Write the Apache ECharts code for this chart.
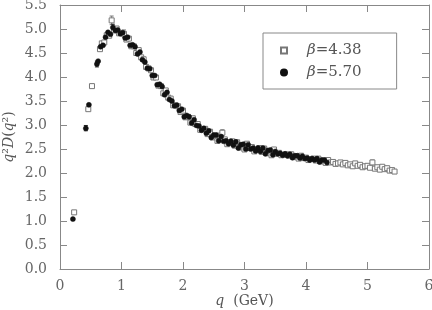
<!DOCTYPE html>
<html><head><meta charset="utf-8">
<script src="https://cdn.jsdelivr.net/npm/echarts@6/dist/echarts.min.js"></script>
<style>html,body{margin:0;padding:0;background:#fff}#c{width:432px;height:310px}</style>
</head><body><div id="c"></div>
<script>
// beta = 4.38 (open squares)
var qA = [0.23,0.46,0.52,0.65,0.68,0.72,0.76,0.80,0.84,0.88,0.92,0.96,1.00,1.04,1.08,1.12,1.16,1.20,1.24,1.28,1.32,1.36,1.40,1.44,1.48,1.52,1.56,1.60,1.64,1.68,1.72,1.76,1.80,1.84,1.88,1.92,1.96,2.00,2.04,2.08,2.12,2.16,2.20,2.24,2.28,2.32,2.36,2.40,2.44,2.48,2.52,2.56,2.60,2.64,2.68,2.72,2.76,2.80,2.84,2.88,2.92,2.96,3.00,3.04,3.08,3.12,3.16,3.20,3.24,3.28,3.32,3.36,3.40,3.44,3.48,3.52,3.56,3.60,3.64,3.68,3.72,3.76,3.80,3.84,3.88,3.92,3.96,4.00,4.04,4.08,4.12,4.16,4.20,4.24,4.28,4.32,4.36,4.40,4.44,4.48,4.52,4.56,4.60,4.64,4.68,4.72,4.76,4.80,4.84,4.88,4.92,4.96,5.00,5.04,5.08,5.12,5.16,5.20,5.24,5.28,5.32,5.36,5.40,5.44];
var vA = [1.18,3.33,3.81,4.58,4.70,4.72,4.87,4.86,5.18,4.97,5.01,4.91,4.92,4.90,4.78,4.80,4.64,4.64,4.50,4.56,4.41,4.37,4.21,4.18,4.14,3.99,3.99,3.82,3.81,3.66,3.72,3.57,3.55,3.41,3.41,3.39,3.27,3.30,3.16,3.17,3.05,3.14,3.02,3.02,2.90,2.91,2.92,2.81,2.86,2.74,2.78,2.67,2.78,2.84,2.70,2.60,2.64,2.66,2.57,2.64,2.53,2.58,2.49,2.61,2.52,2.54,2.45,2.49,2.52,2.44,2.51,2.41,2.46,2.37,2.49,2.40,2.42,2.37,2.38,2.39,2.36,2.39,2.33,2.35,2.30,2.36,2.31,2.32,2.27,2.29,2.30,2.26,2.30,2.24,2.26,2.21,2.27,2.22,2.23,2.19,2.20,2.22,2.18,2.21,2.16,2.18,2.14,2.20,2.15,2.17,2.12,2.14,2.15,2.11,2.22,2.09,2.12,2.07,2.13,2.08,2.10,2.05,2.06,2.03];
// beta = 5.70 (filled circles)
var qB = [0.21,0.42,0.47,0.60,0.62,0.66,0.70,0.74,0.78,0.82,0.86,0.90,0.94,0.98,1.02,1.06,1.10,1.14,1.18,1.22,1.26,1.30,1.34,1.38,1.42,1.46,1.50,1.54,1.58,1.62,1.66,1.70,1.74,1.78,1.82,1.86,1.90,1.94,1.98,2.02,2.06,2.10,2.14,2.18,2.22,2.26,2.30,2.34,2.38,2.42,2.46,2.50,2.54,2.58,2.62,2.66,2.70,2.74,2.78,2.82,2.86,2.90,2.94,2.98,3.02,3.06,3.10,3.14,3.18,3.22,3.26,3.30,3.34,3.38,3.42,3.46,3.50,3.54,3.58,3.62,3.66,3.70,3.74,3.78,3.82,3.86,3.90,3.94,3.98,4.02,4.06,4.10,4.14,4.18,4.22,4.26,4.30,4.34];
var vB = [1.04,2.93,3.42,4.27,4.33,4.63,4.66,4.83,4.93,4.89,5.03,4.97,4.98,4.90,4.92,4.81,4.83,4.66,4.67,4.63,4.48,4.52,4.36,4.31,4.18,4.17,4.03,4.03,3.84,3.85,3.80,3.63,3.68,3.53,3.50,3.40,3.41,3.30,3.33,3.17,3.20,3.17,3.04,3.11,2.99,2.98,2.89,2.93,2.83,2.88,2.74,2.79,2.79,2.67,2.76,2.66,2.67,2.61,2.66,2.58,2.65,2.52,2.59,2.60,2.50,2.59,2.50,2.52,2.46,2.52,2.45,2.52,2.40,2.47,2.48,2.38,2.45,2.40,2.41,2.37,2.40,2.36,2.39,2.32,2.36,2.36,2.31,2.35,2.30,2.31,2.27,2.30,2.27,2.30,2.23,2.27,2.27,2.22];
// visible error bars: [q, low, high]
var errA = [[0.84,5.09,5.27],[0.23,1.14,1.22],[1.04,4.82,4.98],[2.64,2.78,2.90],[5.08,2.17,2.27]];
var errB = [[0.42,2.88,2.99],[0.86,4.96,5.10],[0.60,4.21,4.33]];
var xTicks = [0,1,2,3,4,5,6];
var yTicks = [0,0.5,1,1.5,2,2.5,3,3.5,4,4.5,5,5.5];
var names = ['β=4.38','β=5.70'];

var FONT = 'DejaVu Serif';
function zip(q, v){ return q.map(function(x,i){ return [x, v[i]]; }); }
function errRender(color){
  return function(params, api){
    var x = api.value(0), lo = api.value(1), hi = api.value(2);
    var p1 = api.coord([x, lo]), p2 = api.coord([x, hi]);
    var w = 2;
    var st = {stroke: color, lineWidth: 1};
    return {type:'group', children:[
      {type:'line', shape:{x1:p1[0],y1:p1[1],x2:p2[0],y2:p2[1]}, style:st},
      {type:'line', shape:{x1:p1[0]-w,y1:p1[1],x2:p1[0]+w,y2:p1[1]}, style:st},
      {type:'line', shape:{x1:p2[0]-w,y1:p2[1],x2:p2[0]+w,y2:p2[1]}, style:st}
    ]};
  };
}
var lineSt = {color:'#888', width:1};
var tickStyle = {show:true, inside:true, length:7, lineStyle:{color:'#888'}};
var chart = echarts.init(document.getElementById('c'), null, {renderer:'canvas'});
chart.setOption({
  backgroundColor:'#fff',
  animation:false,
  grid:{left:60, right:3, top:5, bottom:41, containLabel:false, outerBoundsMode:'none'},
  legend:{
    left:263, top:33, orient:'vertical',
    data:names,
    borderColor:'#888', borderWidth:1, borderRadius:0,
    padding:[10,35,9,17], itemGap:7,
    itemWidth:6, itemHeight:6,
    formatter:function(n){ return '{i|β}{n|' + n.slice(1) + '}'; },
    textStyle:{fontFamily:FONT, fontSize:15, color:'#555',
      rich:{i:{fontFamily:FONT, fontStyle:'italic', fontSize:15, lineHeight:17, color:'#555', padding:[0,0,0,15]},
            n:{fontFamily:FONT, fontSize:15, lineHeight:17, color:'#555'}}}
  },
  xAxis:[{
    type:'value', min:xTicks[0], max:xTicks[xTicks.length-1], interval:1,
    axisLine:{show:true, onZero:false, lineStyle:lineSt}, axisTick:tickStyle, splitLine:{show:false},
    axisLabel:{fontFamily:FONT, fontSize:14, color:'#666', margin:10},
    name:'{i|q}  (GeV)', nameLocation:'middle', nameGap:25, nameMoveOverlap:false,
    nameTextStyle:{fontFamily:FONT, fontSize:14, color:'#555', verticalAlign:'top',
      rich:{i:{fontFamily:FONT, fontStyle:'italic', fontSize:14, color:'#555'}}}
  },{
    type:'value', position:'top', min:xTicks[0], max:xTicks[xTicks.length-1], interval:1,
    axisLine:{show:true, onZero:false, lineStyle:lineSt}, axisTick:tickStyle, axisLabel:{show:false}, splitLine:{show:false}
  }],
  yAxis:[{
    type:'value', position:'left', min:yTicks[0], max:yTicks[yTicks.length-1], interval:0.5,
    axisLine:{show:true, onZero:false, lineStyle:lineSt}, axisTick:tickStyle,
    splitLine:{show:false},
    axisLabel:{fontFamily:FONT, fontSize:14, color:'#666', margin:13, formatter:function(v){return v.toFixed(1);}},
    name:'{i|q}²{i|D}({i|q}²)', nameLocation:'middle', nameGap:44, nameRotate:90, nameMoveOverlap:false,
    nameTextStyle:{fontFamily:FONT, fontSize:14, color:'#555',
      rich:{i:{fontFamily:FONT, fontStyle:'italic', fontSize:14, color:'#555'}}}
  },{
    type:'value', position:'right', min:yTicks[0], max:yTicks[yTicks.length-1], interval:0.5,
    axisLine:{show:true, onZero:false, lineStyle:lineSt}, axisTick:tickStyle,
    axisLabel:{show:false}, splitLine:{show:false}
  }],
  series:[
    {type:'custom', renderItem:errRender('#777'), data:errA, z:1, silent:true},
    {type:'custom', renderItem:errRender('#222'), data:errB, z:1, silent:true},
    {name:names[0], type:'scatter', symbol:'rect', symbolSize:5, data:zip(qA,vA), z:2,
      itemStyle:{color:'#fff', borderColor:'#777', borderWidth:1, opacity:1}},
    {name:names[1], type:'scatter', symbol:'circle', symbolSize:5, data:zip(qB,vB), z:3,
      itemStyle:{color:'#111', borderColor:'#111', borderWidth:0.5, opacity:1}}
  ]
});
</script></body></html>
